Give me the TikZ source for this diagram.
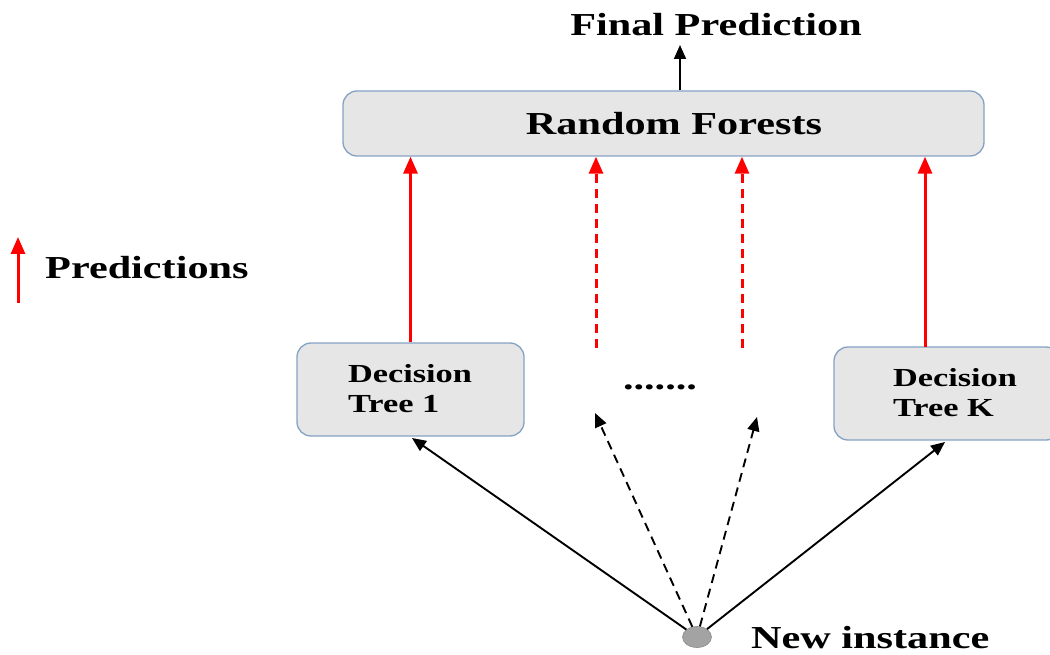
\documentclass[tikz,border=0pt]{standalone}
\usepackage{fontspec}
\setmainfont{Liberation Serif}[FakeStretch=1.32]
\usetikzlibrary{arrows.meta,shapes.geometric}
\definecolor{boxfill}{HTML}{E6E6E6}
\definecolor{boxdraw}{HTML}{84A2C4}
\definecolor{dotfill}{HTML}{A3A3A3}
\begin{document}
\begin{tikzpicture}[x=1pt,y=-1pt,
  box/.style={draw=boxdraw,line width=1.3pt,fill=boxfill,rounded corners=14pt,inner sep=0pt},
  big/.style={font=\fontsize{32}{38}\selectfont\bfseries,inner sep=0pt},
  small/.style={font=\fontsize{26}{30}\selectfont\bfseries,inner sep=0pt,align=left},
  redarrow/.style={draw=red,line width=3pt,-{Triangle[length=17pt,width=14pt]}},
  blkarrow/.style={draw=black,line width=1.9pt,-{Triangle[length=14pt,width=12pt]}},
  dashpat/.style={dash pattern=on 9pt off 6pt}]
\useasboundingbox (0,0) rectangle (1050,655);
% boxes
\node[box,minimum width=641pt,minimum height=65pt] (rf) at (663.5,123.5) {};
\node[big] (rftext) at (674,123.5) {Random Forests};
\node[box,minimum width=227pt,minimum height=93pt] (dt1) at (410.5,389.5) {};
\node[small] (dt1text) at (410,389) {Decision\\Tree 1};
\node[box,minimum width=226pt,minimum height=93pt] (dtk) at (947,393.5) {};
\node[small] (dtktext) at (955,393) {Decision\\Tree K};
% texts
\node[big] (fp) at (716,25) {Final Prediction};
\node[big,anchor=west] (pred) at (45,268) {Predictions};
\node[big,anchor=west] (nitext) at (751,638) {New instance};
\node[big] (dots) at (660,387) {.......};
% new instance
\node[ellipse,fill=dotfill,draw=dotfill!85!black,line width=0.6pt,minimum width=29pt,minimum height=21pt,inner sep=0pt] (ni) at (697,637) {};
% final prediction arrow
\coordinate (fptip) at (680,45);
\draw[blkarrow] (rf.north -| fptip) -- (fptip);
% red prediction arrows
\coordinate (r2) at (596,348);
\coordinate (r3) at (742,348);
\coordinate (r4) at (925,347);
\draw[redarrow] (dt1.north) -- (dt1.north |- rf.south);
\draw[redarrow,dashpat] (r2) -- (r2 |- rf.south);
\draw[redarrow,dashpat] (r3) -- (r3 |- rf.south);
\draw[redarrow] (r4) -- (r4 |- rf.south);
% legend arrow
\coordinate (lg0) at (18,303);
\coordinate (lg1) at (18,237);
\draw[redarrow] (lg0) -- (lg1);
% instance arrows
\coordinate (d1) at (595,413);
\coordinate (d2) at (757,417);
\coordinate (t1) at (412,438);
\coordinate (tk) at (945,442);
\draw[blkarrow] (ni) -- (t1);
\draw[blkarrow] (ni) -- (tk);
\draw[blkarrow,dashpat] (ni) -- (d1);
\draw[blkarrow,dashpat] (ni) -- (d2);
\end{tikzpicture}
\end{document}
